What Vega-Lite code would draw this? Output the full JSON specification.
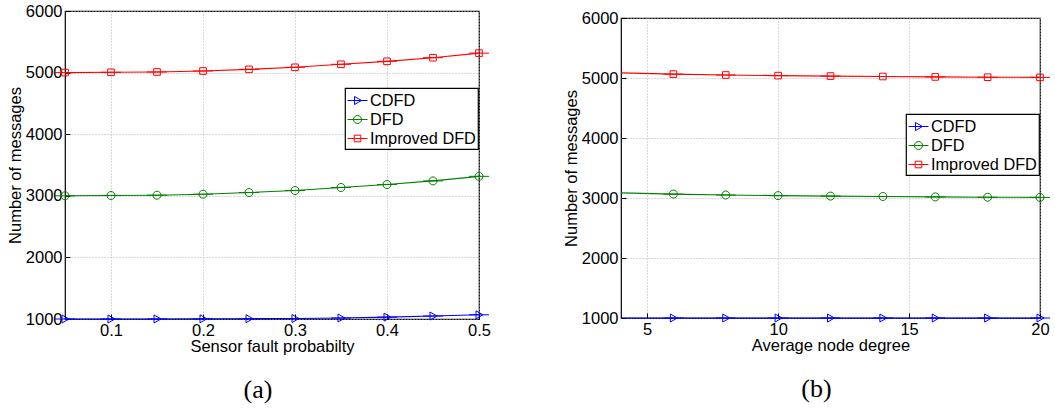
{
  "$schema": "https://vega.github.io/schema/vega-lite/v6.json",
  "padding": {"left": 6, "top": 2, "right": 0, "bottom": 0},
  "background": "white",
  "datasets": {
    "a": [
      {"x": 0.05, "series": "CDFD", "y": 1000}, {"x": 0.1, "series": "CDFD", "y": 1000}, {"x": 0.15, "series": "CDFD", "y": 1001}, {"x": 0.2, "series": "CDFD", "y": 1003}, {"x": 0.25, "series": "CDFD", "y": 1005}, {"x": 0.3, "series": "CDFD", "y": 1008}, {"x": 0.35, "series": "CDFD", "y": 1016}, {"x": 0.4, "series": "CDFD", "y": 1030}, {"x": 0.45, "series": "CDFD", "y": 1048}, {"x": 0.5, "series": "CDFD", "y": 1068},
      {"x": 0.05, "series": "DFD", "y": 3000}, {"x": 0.1, "series": "DFD", "y": 3005}, {"x": 0.15, "series": "DFD", "y": 3010}, {"x": 0.2, "series": "DFD", "y": 3026}, {"x": 0.25, "series": "DFD", "y": 3053}, {"x": 0.3, "series": "DFD", "y": 3086}, {"x": 0.35, "series": "DFD", "y": 3135}, {"x": 0.4, "series": "DFD", "y": 3183}, {"x": 0.45, "series": "DFD", "y": 3242}, {"x": 0.5, "series": "DFD", "y": 3316},
      {"x": 0.05, "series": "Improved DFD", "y": 5000}, {"x": 0.1, "series": "Improved DFD", "y": 5005}, {"x": 0.15, "series": "Improved DFD", "y": 5010}, {"x": 0.2, "series": "Improved DFD", "y": 5026}, {"x": 0.25, "series": "Improved DFD", "y": 5053}, {"x": 0.3, "series": "Improved DFD", "y": 5086}, {"x": 0.35, "series": "Improved DFD", "y": 5135}, {"x": 0.4, "series": "Improved DFD", "y": 5183}, {"x": 0.45, "series": "Improved DFD", "y": 5242}, {"x": 0.5, "series": "Improved DFD", "y": 5316}
    ],
    "b": [
      {"x": 4, "series": "CDFD", "y": 1000}, {"x": 6, "series": "CDFD", "y": 1000}, {"x": 8, "series": "CDFD", "y": 1000}, {"x": 10, "series": "CDFD", "y": 1000}, {"x": 12, "series": "CDFD", "y": 1000}, {"x": 14, "series": "CDFD", "y": 1000}, {"x": 16, "series": "CDFD", "y": 1000}, {"x": 18, "series": "CDFD", "y": 1000}, {"x": 20, "series": "CDFD", "y": 1000},
      {"x": 4, "series": "DFD", "y": 3085}, {"x": 6, "series": "DFD", "y": 3065}, {"x": 8, "series": "DFD", "y": 3050}, {"x": 10, "series": "DFD", "y": 3040}, {"x": 12, "series": "DFD", "y": 3032}, {"x": 14, "series": "DFD", "y": 3025}, {"x": 16, "series": "DFD", "y": 3018}, {"x": 18, "series": "DFD", "y": 3013}, {"x": 20, "series": "DFD", "y": 3010},
      {"x": 4, "series": "Improved DFD", "y": 5085}, {"x": 6, "series": "Improved DFD", "y": 5065}, {"x": 8, "series": "Improved DFD", "y": 5050}, {"x": 10, "series": "Improved DFD", "y": 5040}, {"x": 12, "series": "Improved DFD", "y": 5032}, {"x": 14, "series": "Improved DFD", "y": 5025}, {"x": 16, "series": "Improved DFD", "y": 5018}, {"x": 18, "series": "Improved DFD", "y": 5013}, {"x": 20, "series": "Improved DFD", "y": 5010}
    ]
  },
  "hconcat": [
    {
      "width": 414,
      "height": 308,
      "data": {"name": "a"},
      "title": {"text": "(a)", "orient": "bottom", "font": "Liberation Serif", "fontSize": 26, "fontWeight": "normal", "color": "black", "offset": 22, "dx": -14},
      "encoding": {
        "x": {"field": "x", "type": "quantitative", "scale": {"domain": [0.05, 0.5], "nice": false, "zero": false}, "axis": {"title": "Sensor fault probabilty", "values": [0.1, 0.2, 0.3, 0.4, 0.5], "format": ".1f"}},
        "y": {"field": "y", "type": "quantitative", "scale": {"domain": [1000, 6000], "nice": false, "zero": false}, "axis": {"title": "Number of messages", "values": [1000, 2000, 3000, 4000, 5000, 6000], "format": "d"}}
      },
      "layer": [
        {
          "mark": {"type": "line", "strokeWidth": 1.1},
          "encoding": {
            "color": {"field": "series", "type": "nominal", "scale": {"domain": ["CDFD", "DFD", "Improved DFD"], "range": ["#0000FF", "#008000", "#FF0000"]}, "legend": {"title": null, "orient": "none", "legendX": 280, "legendY": 77}}
          }
        },
        {
          "mark": {"type": "point", "filled": false, "size": 400, "strokeWidth": 1, "opacity": 1},
          "encoding": {
            "shape": {"field": "series", "type": "nominal", "scale": {"domain": ["CDFD", "DFD", "Improved DFD"], "range": ["M-1,0H1M-0.3,-0.4L0.4,0L-0.3,0.4Z", "M-1,0H1M-0.4,0A0.4,0.4,0,1,1,0.4,0A0.4,0.4,0,1,1,-0.4,0Z", "M-1,0H1M-0.33,-0.33H0.33V0.33H-0.33Z"]},
              "legend": {"title": null, "orient": "none", "legendX": 280, "legendY": 77}},
            "color": {"field": "series", "type": "nominal", "scale": {"domain": ["CDFD", "DFD", "Improved DFD"], "range": ["#0000FF", "#008000", "#FF0000"]}, "legend": {"title": null, "orient": "none", "legendX": 280, "legendY": 77}}
          }
        }
      ]
    },
    {
      "spacing": -3,
      "vconcat": [
        {
          "width": 419,
          "height": 1,
          "view": {"stroke": null},
          "data": {"values": []},
          "mark": "point"
        },
        {
          "width": 419,
          "height": 300,
          "data": {"name": "b"},
          "title": {"text": "(b)", "orient": "bottom", "font": "Liberation Serif", "fontSize": 26, "fontWeight": "normal", "color": "black", "offset": 22, "dx": -14},
          "encoding": {
            "x": {"field": "x", "type": "quantitative", "scale": {"domain": [4, 20], "nice": false, "zero": false}, "axis": {"title": "Average node degree", "values": [5, 10, 15, 20], "format": "d"}},
            "y": {"field": "y", "type": "quantitative", "scale": {"domain": [1000, 6000], "nice": false, "zero": false}, "axis": {"title": "Number of messages", "values": [1000, 2000, 3000, 4000, 5000, 6000], "format": "d"}}
          },
          "layer": [
            {
              "mark": {"type": "line", "strokeWidth": 1.1},
              "encoding": {
                "color": {"field": "series", "type": "nominal", "scale": {"domain": ["CDFD", "DFD", "Improved DFD"], "range": ["#0000FF", "#008000", "#FF0000"]}, "legend": {"title": null, "orient": "none", "legendX": 285, "legendY": 103}}
              }
            },
            {
              "transform": [{"filter": "datum.x >= 6"}],
              "mark": {"type": "point", "filled": false, "size": 400, "strokeWidth": 1, "opacity": 1},
              "encoding": {
                "shape": {"field": "series", "type": "nominal", "scale": {"domain": ["CDFD", "DFD", "Improved DFD"], "range": ["M-1,0H1M-0.3,-0.4L0.4,0L-0.3,0.4Z", "M-1,0H1M-0.4,0A0.4,0.4,0,1,1,0.4,0A0.4,0.4,0,1,1,-0.4,0Z", "M-1,0H1M-0.33,-0.33H0.33V0.33H-0.33Z"]},
                  "legend": {"title": null, "orient": "none", "legendX": 285, "legendY": 103}},
                "color": {"field": "series", "type": "nominal", "scale": {"domain": ["CDFD", "DFD", "Improved DFD"], "range": ["#0000FF", "#008000", "#FF0000"]}, "legend": {"title": null, "orient": "none", "legendX": 285, "legendY": 103}}
              }
            }
          ]
        }
      ]
    }
  ],
  "spacing": 70,
  "resolve": {"scale": {"color": "independent", "shape": "independent"}},
  "config": {
    "view": {"stroke": "black", "strokeWidth": 1.2},
    "axis": {
      "labelFont": "Liberation Sans", "labelFontSize": 16.5, "labelColor": "black", "labelFlush": false,
      "titleFont": "Liberation Sans", "titleFontSize": 16.5, "titleFontWeight": "normal", "titleColor": "black",
      "domain": false, "grid": true, "gridColor": "#b0b0b0", "gridDash": [1, 2], "gridWidth": 1,
      "tickSize": -5, "tickColor": "black", "labelPadding": 8
    },
    "axisX": {"titlePadding": 0},
    "axisY": {"titlePadding": 2},
    "legend": {
      "labelFont": "Liberation Sans", "labelFontSize": 16.3, "labelColor": "black",
      "symbolSize": 400, "symbolStrokeWidth": 1, "padding": 2, "rowPadding": 0, "labelOffset": 2,
      "strokeColor": "black", "fillColor": "white", "strokeWidth": 1.2
    },
    "title": {"anchor": "middle", "color": "black"}
  }
}
